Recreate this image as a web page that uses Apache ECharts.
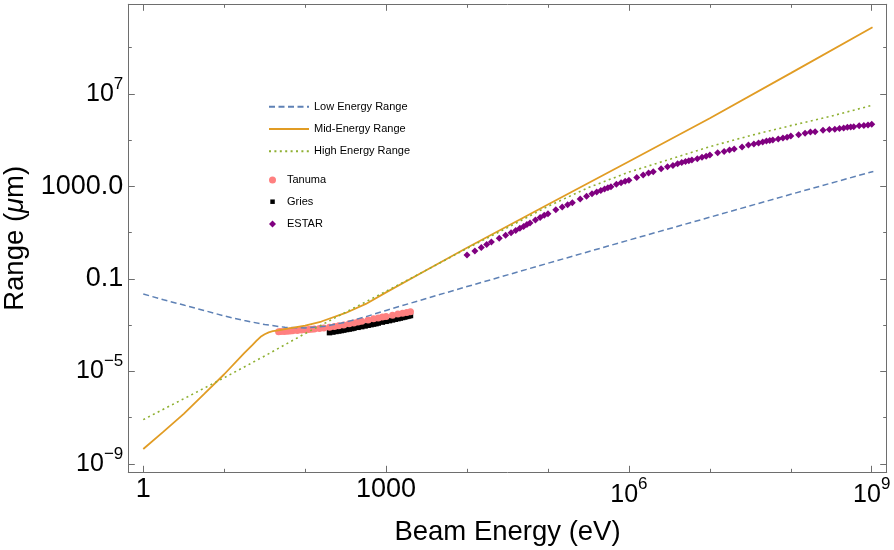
<!DOCTYPE html>
<html>
<head>
    <meta charset="utf-8">
    <title>Range vs Beam Energy</title>
    <script src="https://cdn.jsdelivr.net/npm/echarts@6/dist/echarts.min.js"></script>
    <style>
        html, body { margin: 0; padding: 0; background: #fff; }
        #main { width: 894px; height: 550px; }
    </style>
</head>
<body>
    <div id="main"></div>
    <script type="text/javascript">
        // all curves are given as log10 values (energy in eV, range in um)
        var lowLogE  = [0, 0.25, 0.5, 0.75, 1, 1.25, 1.5, 1.75, 2, 2.25, 2.5, 2.75, 3, 3.5, 4, 5, 6, 7, 8, 9.02];
        var lowLogR  = [-1.65, -1.9, -2.13, -2.36, -2.6, -2.8, -2.97, -3.09, -3.12, -3.04, -2.87, -2.63, -2.36, -1.84, -1.33, -0.32, 0.68, 1.67, 2.66, 3.65];

        var midLogE  = [0, 0.25, 0.5, 0.75, 1, 1.25, 1.35, 1.4, 1.45, 1.5, 1.55, 1.6, 1.65, 1.7, 1.8, 2, 2.2, 2.5, 2.75, 3, 3.54, 4, 5, 6, 7, 8, 9.01];
        var midLogR  = [-8.35, -7.6, -6.83, -5.98, -5.12, -4.2, -3.85, -3.67, -3.5, -3.39, -3.31, -3.26, -3.23, -3.2, -3.14, -3.02, -2.84, -2.47, -2.08, -1.58, -0.54, 0.35, 2.22, 4.08, 5.95, 7.9, 9.88];

        var highLogE = [0, 0.5, 1, 1.5, 2, 2.5, 3, 3.54, 4, 4.5, 5, 5.5, 6, 6.5, 7, 7.5, 8, 8.5, 9.02];
        var highLogR = [-7.08, -6.18, -5.27, -4.33, -3.36, -2.44, -1.53, -0.54, 0.32, 1.22, 2.14, 2.95, 3.62, 4.17, 4.72, 5.2, 5.63, 6.04, 6.52];

        // Tanuma (eV, log10 um)
        var tanumaE    = [47, 50, 55, 60, 65, 70, 80, 90, 100, 110, 120, 130, 150, 170, 200, 230, 260, 300, 350, 400, 450, 500, 600, 700, 800, 900, 1000, 1200, 1400, 1600, 1800, 2000];
        var tanumaLogR = [-3.28, -3.275, -3.27, -3.26, -3.25, -3.24, -3.225, -3.21, -3.195, -3.185, -3.17, -3.16, -3.14, -3.115, -3.09, -3.06, -3.025, -2.99, -2.94, -2.9, -2.86, -2.83, -2.77, -2.72, -2.685, -2.65, -2.62, -2.565, -2.52, -2.48, -2.45, -2.42];

        // Gries (eV, log10 um)
        var griesE    = [200, 220, 240, 260, 280, 300, 325, 350, 375, 400, 450, 500, 550, 600, 650, 700, 750, 800, 900, 1000, 1100, 1200, 1300, 1400, 1500, 1600, 1700, 1800, 1900, 2000];
        var griesLogR = [-3.32, -3.295, -3.27, -3.25, -3.23, -3.21, -3.185, -3.165, -3.145, -3.125, -3.09, -3.06, -3.03, -3.0, -2.975, -2.95, -2.93, -2.905, -2.865, -2.83, -2.8, -2.77, -2.74, -2.715, -2.69, -2.665, -2.645, -2.62, -2.6, -2.58];

        // ESTAR (MeV, log10 um)
        var estarMeV = [0.01, 0.0125, 0.015, 0.0175, 0.02, 0.025, 0.03, 0.035, 0.04, 0.045, 0.05, 0.055, 0.06, 0.07, 0.08, 0.09,
                        0.1, 0.125, 0.15, 0.175, 0.2, 0.25, 0.3, 0.35, 0.4, 0.45, 0.5, 0.55, 0.6, 0.7, 0.8, 0.9,
                        1, 1.25, 1.5, 1.75, 2, 2.5, 3, 3.5, 4, 4.5, 5, 5.5, 6, 7, 8, 9,
                        10, 12.5, 15, 17.5, 20, 25, 30, 35, 40, 45, 50, 55, 60, 70, 80, 90,
                        100, 125, 150, 175, 200, 250, 300, 350, 400, 450, 500, 550, 600, 700, 800, 900, 1000];
        var estarLogR = [0.04, 0.21, 0.36, 0.49, 0.6, 0.76, 0.89, 1.0, 1.1, 1.19, 1.27, 1.35, 1.42, 1.55, 1.66, 1.75,
                         1.82, 1.99, 2.11, 2.21, 2.3, 2.46, 2.58, 2.68, 2.76, 2.83, 2.89, 2.94, 2.99, 3.09, 3.16, 3.22,
                         3.27, 3.39, 3.5, 3.58, 3.64, 3.76, 3.85, 3.91, 3.98, 4.03, 4.08, 4.11, 4.14, 4.2, 4.26, 4.31,
                         4.36, 4.46, 4.51, 4.58, 4.62, 4.7, 4.79, 4.84, 4.88, 4.92, 4.96, 4.99, 5.01, 5.05, 5.09, 5.13,
                         5.18, 5.23, 5.3, 5.35, 5.37, 5.43, 5.46, 5.47, 5.5, 5.53, 5.56, 5.57, 5.58, 5.62, 5.64, 5.66, 5.69];

        // ticks (log10 positions) and their labels
        var xMajor = [0, 3, 6, 9];
        var xMinor = [1, 2, 4, 5, 7, 8];
        var xTickLabels = ['1', '1000', '10^6', '10^9'];
        var yMajor = [-9, -5, -1, 3, 7];
        var yMinor = [-7, -3, 1, 5, 9];
        var yTickLabels = ['10^\u22129', '10^\u22125', '0.1', '1000.0', '10^7'];

        var FONT = '"Liberation Sans", Arial, Helvetica, sans-serif';
        var FRAME = '#6e6e6e';
        var X_MIN = -0.185, X_MAX = 9.185, Y_MIN = -9.359, Y_MAX = 10.875;

        function pairs(xs, ys) {
            var out = [];
            for (var i = 0; i < xs.length; i++) out.push([xs[i], ys[i]]);
            return out;
        }
        function logPairs(xs, ys, scale) {
            var out = [];
            for (var i = 0; i < xs.length; i++) out.push([Math.log10(xs[i] * scale), ys[i]]);
            return out;
        }
        function richLabel(s) {
            var p = s.split('^');
            return p.length > 1 ? '{b|' + p[0] + '}{s|' + p[1] + '}' : '{p|' + s + '}';
        }
        var labelRich = {
            p: { fontSize: 27, lineHeight: 27, fontFamily: FONT, color: '#000' },
            b: { fontSize: 25, lineHeight: 37, fontFamily: FONT, color: '#000' },
            s: { fontSize: 17, lineHeight: 17, fontFamily: FONT, color: '#000', verticalAlign: 'top' }
        };

        function axis(pos, kind, ticks, len, labels) {
            var isX = (pos === 'bottom' || pos === 'top');
            var a = {
                type: 'value',
                position: pos,
                min: isX ? X_MIN : Y_MIN,
                max: isX ? X_MAX : Y_MAX,
                splitLine: { show: false },
                axisLine: { show: kind === 'major', onZero: false, lineStyle: { color: FRAME, width: 1 } },
                axisTick: { show: true, inside: true, length: len, customValues: ticks, lineStyle: { color: FRAME, width: 1 } },
                axisLabel: { show: false }
            };
            if (labels) {
                a.axisLabel = {
                    show: true,
                    customValues: ticks,
                    margin: isX ? 4 : 5,
                    rich: labelRich,
                    formatter: function (v) {
                        var i = ticks.indexOf(Math.round(v));
                        return i < 0 ? '' : richLabel(labels[i]);
                    }
                };
            }
            return a;
        }

        var xAxes = [
            axis('bottom', 'major', xMajor, 6.5, xTickLabels),
            axis('bottom', 'minor', xMinor, 3.5),
            axis('top', 'major', xMajor, 6.5),
            axis('top', 'minor', xMinor, 3.5)
        ];
        xAxes[0].name = 'Beam Energy (eV)';
        xAxes[0].nameLocation = 'middle';
        xAxes[0].nameGap = 46;
        xAxes[0].nameTextStyle = { fontSize: 27.5, fontFamily: FONT, color: '#000' };

        var yAxes = [
            axis('left', 'major', yMajor, 6.5, yTickLabels),
            axis('left', 'minor', yMinor, 3.5),
            axis('right', 'major', yMajor, 6.5),
            axis('right', 'minor', yMinor, 3.5)
        ];
        yAxes[0].name = '{n|Range (}{i|\u03bc}{n|m)}';
        yAxes[0].nameLocation = 'middle';
        yAxes[0].nameGap = 98;
        yAxes[0].nameTextStyle = {
            fontSize: 27.5, fontFamily: FONT, color: '#000',
            rich: {
                n: { fontSize: 27.5, fontFamily: FONT, color: '#000' },
                i: { fontSize: 27.5, fontFamily: FONT, color: '#000', fontStyle: 'italic' }
            }
        };

        var legendText = { fontSize: 11, lineHeight: 14, fontFamily: FONT, color: '#000' };
        var markerText = { fontSize: 11, lineHeight: 14, fontFamily: FONT, color: '#000' };

        var myChart = echarts.init(document.getElementById('main'), null, { renderer: 'canvas' });
        var option = {
            animation: false,
            backgroundColor: '#fff',
            grid: { left: 128.3, right: 7.3, top: 4.3, bottom: 77.7, containLabel: false, outerBoundsMode: 'none' },
            xAxis: xAxes,
            yAxis: yAxes,
            legend: [
                {
                    data: ['Low Energy Range', 'Mid-Energy Range', 'High Energy Range'],
                    orient: 'vertical', left: 268, top: 99.7, padding: 0,
                    itemWidth: 40, itemHeight: 14, itemGap: 8.3,
                    itemStyle: { opacity: 0 },
                    textStyle: legendText
                },
                {
                    data: ['Tanuma'], orient: 'vertical', left: 269, top: 173, padding: 0,
                    itemWidth: 7, itemHeight: 7, textStyle: Object.assign({ padding: [0, 0, 0, 6] }, markerText)
                },
                {
                    data: ['Gries'], orient: 'vertical', left: 270.3, top: 194.7, padding: 0,
                    itemWidth: 4.5, itemHeight: 4.5, textStyle: Object.assign({ padding: [0, 0, 0, 7.2] }, markerText)
                },
                {
                    data: ['ESTAR'], orient: 'vertical', left: 269, top: 217, padding: 0,
                    itemWidth: 7, itemHeight: 7, textStyle: Object.assign({ padding: [0, 0, 0, 6] }, markerText)
                }
            ],
            series: [
                {
                    name: 'Low Energy Range', type: 'line', symbol: 'none', smooth: false,
                    data: pairs(lowLogE, lowLogR),
                    lineStyle: { color: '#5E81B5', width: 1.5, type: [6, 3.5] },
                    itemStyle: { color: '#5E81B5' }
                },
                {
                    name: 'Mid-Energy Range', type: 'line', symbol: 'none', smooth: false,
                    data: pairs(midLogE, midLogR),
                    lineStyle: { color: '#E19C24', width: 1.8 },
                    itemStyle: { color: '#E19C24' }
                },
                {
                    name: 'High Energy Range', type: 'line', symbol: 'none', smooth: false,
                    data: pairs(highLogE, highLogR),
                    lineStyle: { color: '#8FB032', width: 1.6, type: [2, 3.4] },
                    itemStyle: { color: '#8FB032' }
                },
                {
                    name: 'Gries', type: 'scatter', symbol: 'rect', symbolSize: 5.5,
                    data: logPairs(griesE, griesLogR, 1),
                    itemStyle: { color: '#000000', opacity: 1 }
                },
                {
                    name: 'Tanuma', type: 'scatter', symbol: 'circle', symbolSize: 7,
                    data: logPairs(tanumaE, tanumaLogR, 1),
                    itemStyle: { color: '#FF8080', opacity: 1 }
                },
                {
                    name: 'ESTAR', type: 'scatter', symbol: 'diamond', symbolSize: 7,
                    data: logPairs(estarMeV, estarLogR, 1e6),
                    itemStyle: { color: '#800080', opacity: 1 }
                }
            ]
        };
        myChart.setOption(option);
    </script>
</body>
</html>
